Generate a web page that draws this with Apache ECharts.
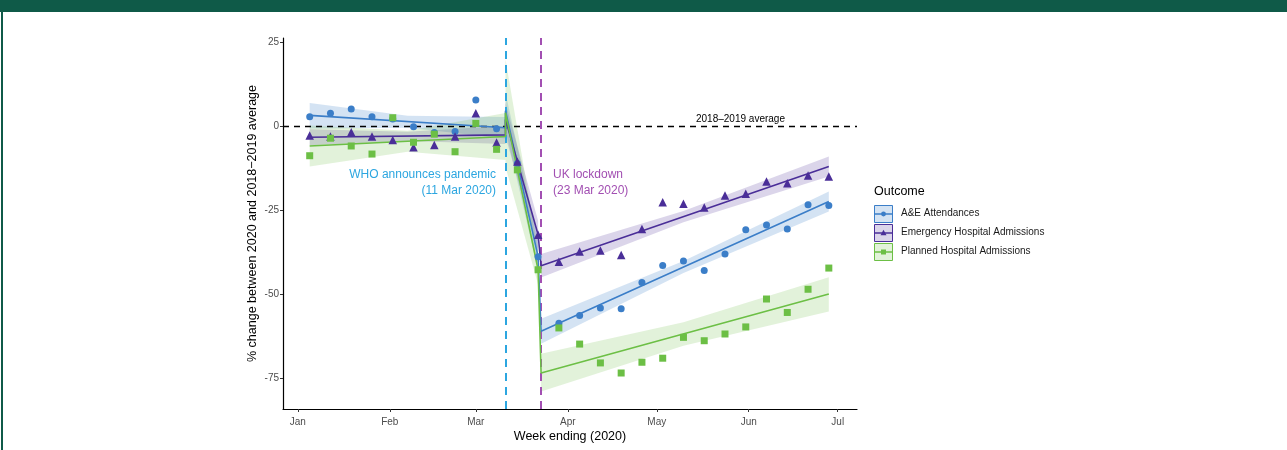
<!DOCTYPE html>
<html>
<head>
<meta charset="utf-8">
<title>Weekly hospital activity, 2020</title>
<script src="https://cdn.jsdelivr.net/npm/echarts@6/dist/echarts.min.js"></script>
<style>
  html, body { margin: 0; padding: 0; background: #fff; }
  #wrap { position: relative; width: 1287px; height: 450px; overflow: hidden; }
  #chart { position: absolute; left: 0; top: 0; width: 1287px; height: 450px; }
  #topbar { position: absolute; left: 0; top: 0; width: 1287px; height: 12px; background: #0f5a48; }
  #leftbar { position: absolute; left: 1px; top: 0; width: 2px; height: 450px; background: #0f5a48; }
</style>
</head>
<body>
<div id="wrap">
  <div id="chart"></div>
  <div id="topbar"></div>
  <div id="leftbar"></div>
</div>
<script>
// Week-ending dates of the observed series
const weekEnding = [
  '2020-01-05','2020-01-12','2020-01-19','2020-01-26','2020-02-02','2020-02-09',
  '2020-02-16','2020-02-23','2020-03-01','2020-03-08','2020-03-15','2020-03-22',
  '2020-03-29','2020-04-05','2020-04-12','2020-04-19','2020-04-26','2020-05-03',
  '2020-05-10','2020-05-17','2020-05-24','2020-05-31','2020-06-07','2020-06-14',
  '2020-06-21','2020-06-28'
];

// % change against the 2018-2019 average, per outcome
const aeValues = [2.9, 3.9, 5.2, 2.9, 2.2, -0.1, -1.8, -1.5, 7.9, -0.7, -11.0, -38.7,
  -58.5, -56.2, -54.0, -54.2, -46.4, -41.3, -40.0, -42.8, -37.9, -30.7, -29.3, -30.5, -23.3, -23.5];
const emergencyValues = [-2.7, -3.0, -1.7, -3.0, -4.0, -6.2, -5.5, -3.0, 3.9, -4.8, -10.4, -32.2,
  -40.2, -37.2, -36.9, -38.2, -30.5, -22.5, -23.0, -24.1, -20.5, -20.0, -16.4, -16.9, -14.6, -14.9];
const plannedValues = [-8.7, -3.5, -5.8, -8.2, 2.6, -4.7, -2.3, -7.5, 0.9, -6.8, -12.9, -42.6,
  -59.9, -64.7, -70.3, -73.3, -70.1, -68.9, -62.7, -63.7, -61.7, -59.6, -51.3, -55.3, -48.4, -42.1];

// Segmented trend lines (pre-pandemic, pandemic to lockdown, post-lockdown)
const fitDates = ['2020-01-05','2020-03-11','2020-03-11','2020-03-22','2020-03-23','2020-06-28'];
const aeFit = [3.3, -0.4, 4.7, -38.7, -60.9, -22.3];
const emergencyFit = [-3.2, -2.5, 2.1, -32.2, -41.4, -11.9];
const plannedFit = [-5.8, -3.0, 4.1, -42.6, -73.3, -49.8];

// Confidence bands around the trend lines
const bandDates = ['2020-01-05','2020-02-07','2020-03-11','2020-03-11','2020-03-22','2020-03-23','2020-05-10','2020-06-28'];
const bandSegments = [[0, 3], [3, 5], [5, 8]];
const aeLow = [-0.6, -0.4, -3.6, -1.0, -43.0, -64.6, -43.6, -25.3];
const aeHigh = [7.0, 3.2, 2.8, 10.0, -34.0, -57.2, -40.0, -19.3];
const emergencyLow = [-5.6, -4.3, -5.2, -3.0, -37.0, -44.9, -28.5, -14.9];
const emergencyHigh = [-0.8, -1.6, 0.2, 7.0, -28.0, -37.9, -25.1, -8.9];
const plannedLow = [-11.9, -7.5, -10.0, -12.0, -47.0, -78.8, -65.2, -55.0];
const plannedHigh = [0.3, -1.3, 4.0, 20.0, -37.0, -67.6, -58.2, -44.8];

// Axis ticks
const monthStarts = ['2020-01-01','2020-02-01','2020-03-01','2020-04-01','2020-05-01','2020-06-01','2020-07-01'];
const monthLabels = ['Jan','Feb','Mar','Apr','May','Jun','Jul'];
const yTicks = [-75, -50, -25, 0, 25];

// Event dates
const whoDate = '2020-03-11';
const lockdownDate = '2020-03-23';

const outcomes = ['A&E Attendances', 'Emergency Hospital Admissions', 'Planned Hospital Admissions'];
const colors = ['#3b7ec8', '#4a2e98', '#6cbf45'];
const bandColors = ['rgba(59,126,200,0.22)', 'rgba(74,46,152,0.20)', 'rgba(108,191,69,0.20)'];
const symbols = ['circle', 'triangle', 'rect'];
const symbolSizes = [7, 8.5, 7];

// Days since 1 Jan 2020, used as the x coordinate
function dayOf(s) {
  const p = s.split('-').map(Number);
  return Math.round((Date.UTC(p[0], p[1] - 1, p[2]) - Date.UTC(2020, 0, 1)) / 86400000);
}
const weekX = weekEnding.map(dayOf);
const fitX = fitDates.map(dayOf);
const bandX = bandDates.map(dayOf);
const monthX = monthStarts.map(dayOf);

const values = [aeValues, emergencyValues, plannedValues];
const fits = [aeFit, emergencyFit, plannedFit];
const lows = [aeLow, emergencyLow, plannedLow];
const highs = [aeHigh, emergencyHigh, plannedHigh];

const series = [];

// Bands
outcomes.forEach((name, k) => {
  series.push({
    type: 'custom',
    name: name + ' band',
    silent: true,
    z: 1,
    data: bandSegments.map(r => [bandX[r[0]], lows[k][r[0]]]),
    encode: { x: 0, y: 1 },
    renderItem(params, api) {
      const r = bandSegments[params.dataIndex];
      const upper = [], lower = [];
      for (let i = r[0]; i < r[1]; i++) {
        upper.push(api.coord([bandX[i], highs[k][i]]));
        lower.push(api.coord([bandX[i], lows[k][i]]));
      }
      return {
        type: 'polygon',
        shape: { points: upper.concat(lower.reverse()) },
        style: { fill: bandColors[k] }
      };
    }
  });
});

// Reference lines
series.push({
  type: 'line',
  name: 'refs',
  data: [],
  silent: true,
  markLine: {
    silent: true,
    symbol: 'none',
    label: { show: false },
    animation: false,
    z: 2,
    data: [
      { yAxis: 0, lineStyle: { color: '#000', width: 1.4, type: [6, 5] } },
      { xAxis: dayOf(whoDate), lineStyle: { color: '#2ca6e0', width: 2, type: [8, 6] } },
      { xAxis: dayOf(lockdownDate), lineStyle: { color: '#a24fb2', width: 2, type: [8, 6] } }
    ]
  }
});

// Trend lines
outcomes.forEach((name, k) => {
  series.push({
    type: 'line',
    name: name + ' trend',
    data: fitX.map((x, i) => [x, fits[k][i]]),
    showSymbol: false,
    silent: true,
    z: 3,
    lineStyle: { color: colors[k], width: 1.6 }
  });
});

// Observed points
outcomes.forEach((name, k) => {
  series.push({
    type: 'scatter',
    name: name,
    data: weekX.map((x, i) => [x, values[k][i]]),
    symbol: symbols[k],
    symbolSize: symbolSizes[k],
    itemStyle: { color: colors[k], opacity: 1 },
    z: 4
  });
});

// Legend keys
const legendGraphics = [
  { type: 'text', left: 874, top: 185, style: { text: 'Outcome', fontSize: 12.5, fill: '#000', fontFamily: 'Liberation Sans' } }
];
outcomes.forEach((name, k) => {
  const top = 205 + k * 19;
  const cy = top + 9;
  legendGraphics.push({
    type: 'rect', shape: { x: 874.5, y: top + 0.5, width: 18, height: 17 },
    style: { fill: bandColors[k], stroke: colors[k], lineWidth: 1 }
  });
  legendGraphics.push({
    type: 'line', shape: { x1: 875, y1: cy, x2: 892, y2: cy },
    style: { stroke: colors[k], lineWidth: 1.5 }
  });
  if (k === 0) {
    legendGraphics.push({ type: 'circle', shape: { cx: 883.5, cy: cy, r: 2.4 }, style: { fill: colors[k] } });
  } else if (k === 1) {
    legendGraphics.push({ type: 'polygon', shape: { points: [[883.5, cy - 3.2], [880.5, cy + 2.2], [886.5, cy + 2.2]] }, style: { fill: colors[k] } });
  } else {
    legendGraphics.push({ type: 'rect', shape: { x: 881, y: cy - 2.5, width: 5, height: 5 }, style: { fill: colors[k] } });
  }
  legendGraphics.push({
    type: 'text', left: 901, top: cy - 6,
    style: { text: name, fontSize: 10, fill: '#1a1a1a', fontFamily: 'Liberation Sans' }
  });
});

// Event annotations
const annotationGraphics = [
  { type: 'text', right: 1287 - 496, top: 169, style: { text: 'WHO announces pandemic', fontSize: 12, fill: '#2ca6e0', fontFamily: 'Liberation Sans' } },
  { type: 'text', right: 1287 - 496, top: 185, style: { text: '(11 Mar 2020)', fontSize: 12, fill: '#2ca6e0', fontFamily: 'Liberation Sans' } },
  { type: 'text', left: 553, top: 169, style: { text: 'UK lockdown', fontSize: 12, fill: '#a24fb2', fontFamily: 'Liberation Sans' } },
  { type: 'text', left: 553, top: 185, style: { text: '(23 Mar 2020)', fontSize: 12, fill: '#a24fb2', fontFamily: 'Liberation Sans' } },
  { type: 'text', left: 696, top: 114, style: { text: '2018\u20132019 average', fontSize: 10, fill: '#000', fontFamily: 'Liberation Sans' } }
];

const chart = echarts.init(document.getElementById('chart'), null, { renderer: 'canvas' });
chart.setOption({
  animation: false,
  backgroundColor: '#fff',
  textStyle: { fontFamily: 'Liberation Sans, Arial, sans-serif' },
  grid: { left: 283, right: 430, top: 38, bottom: 41, containLabel: false },
  xAxis: {
    type: 'value',
    min: -5,
    max: 188.5,
    name: 'Week ending (2020)',
    nameLocation: 'middle',
    nameGap: 21,
    nameMoveOverlap: false,
    nameTextStyle: { fontSize: 12.5, color: '#000' },
    axisLine: { show: true, onZero: false, lineStyle: { color: '#000', width: 1.2 } },
    axisTick: { show: true, length: 3, lineStyle: { color: '#333' }, customValues: monthX },
    axisLabel: {
      customValues: monthX,
      formatter: v => monthLabels[monthX.indexOf(v)],
      color: '#4d4d4d', fontSize: 10, margin: 8
    },
    splitLine: { show: false }
  },
  yAxis: {
    type: 'value',
    min: -84,
    max: 26.3,
    name: '% change between 2020 and 2018\u22122019 average',
    nameLocation: 'middle',
    nameGap: 24,
    nameMoveOverlap: false,
    nameTextStyle: { fontSize: 12.5, color: '#000' },
    axisLine: { show: true, onZero: false, lineStyle: { color: '#000', width: 1.2 } },
    axisTick: { show: true, length: 3, lineStyle: { color: '#333' }, customValues: yTicks },
    axisLabel: { customValues: yTicks, color: '#4d4d4d', fontSize: 10, margin: 4 },
    splitLine: { show: false }
  },
  graphic: legendGraphics.concat(annotationGraphics),
  series: series
});
</script>
</body>
</html>
